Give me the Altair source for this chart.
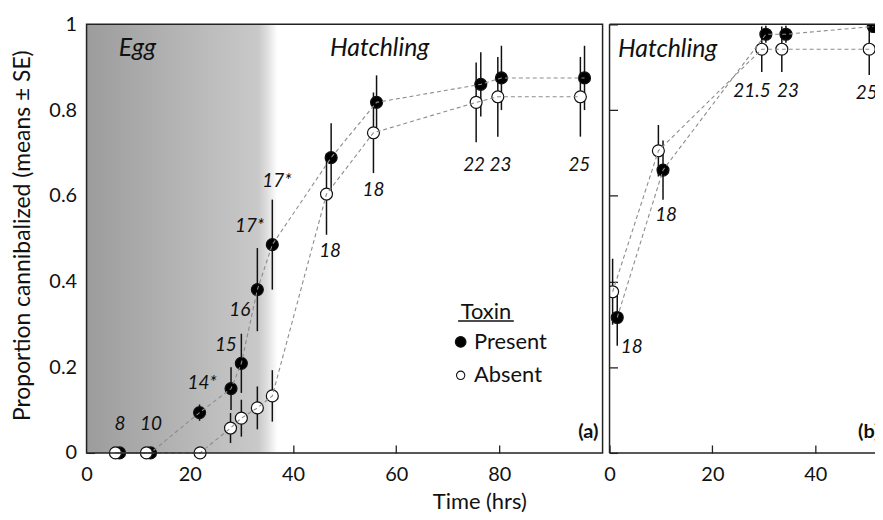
import altair as alt
import pandas as pd

# ---------------- Panel (a): egg -> hatchling ----------------
a_present_time = [6.4, 12.4, 21.9, 28.0, 30.0, 33.1, 36.0, 47.4, 56.2, 76.4, 80.4, 96.5]
a_present_mean = [0, 0, 0.094, 0.15, 0.209, 0.381, 0.486, 0.689, 0.818, 0.86, 0.875, 0.875]
a_present_se = [0, 0, 0.019, 0.05, 0.069, 0.097, 0.105, 0.08, 0.063, 0.075, 0.075, 0.075]
a_absent_time = [5.6, 11.6, 22.0, 27.9, 30.0, 33.1, 36.0, 46.5, 55.6, 75.5, 79.7, 95.7]
a_absent_mean = [0, 0, 0, 0.058, 0.081, 0.105, 0.133, 0.604, 0.747, 0.818, 0.831, 0.831]
a_absent_se = [0, 0, 0, 0.035, 0.043, 0.05, 0.06, 0.095, 0.094, 0.093, 0.093, 0.093]
a_n_text = ["8", "10", "14*", "15", "16", "17*", "17*", "18", "18", "22", "23", "25"]
a_n_time = [6.5, 12.5, 22.4, 27.0, 29.7, 31.6, 36.9, 47.2, 55.6, 75.1, 80.2, 95.5]
a_n_y = [0.067, 0.067, 0.163, 0.251, 0.333, 0.529, 0.635, 0.47, 0.614, 0.672, 0.672, 0.672]
egg_stage_end = 37

# ---------------- Panel (b): hatchling ----------------
b_present_time = [1.5, 10.4, 30.4, 34.3, 51.3]
b_present_mean = [0.316, 0.66, 0.977, 0.977, 0.995]
b_present_se = [0.066, 0.069, 0.02, 0.02, 0.015]
b_absent_time = [0.6, 9.5, 29.6, 33.5, 50.5]
b_absent_mean = [0.376, 0.705, 0.942, 0.942, 0.942]
b_absent_se = [0.077, 0.06, 0.053, 0.053, 0.06]
b_n_text = ["18", "18", "21.5", "23", "25"]
b_n_time = [4.3, 11.0, 27.7, 34.7, 50.0]
b_n_y = [0.248, 0.556, 0.845, 0.845, 0.84]

groups = ["Present", "Absent"]
y_ticks = [0, 0.2, 0.4, 0.6, 0.8, 1.0]

FONT = "Lato"
W_A, W_B, H = 519, 270, 431
XMAX_A, XMAX_B = 100, 52.2


def series_df(pt, pm, ps, at, am, a_s):
    rows = []
    for g, ts, ms, ss in [("Present", pt, pm, ps), ("Absent", at, am, a_s)]:
        for t, m, s in zip(ts, ms, ss):
            rows.append({"time": t, "mean": m, "lo": m - s, "hi": m + s, "toxin": g,
                         "order": 0 if g == "Present" else 1})
    return pd.DataFrame(rows)


def panel(df, labels_df, xmax, clip):
    xs = alt.Scale(domain=[0, xmax], nice=False, zero=False)
    ys = alt.Scale(domain=[0, 1], nice=False)
    base = alt.Chart(df)
    err = base.transform_filter("datum.hi > datum.lo").mark_rule(
        color="#111", strokeWidth=1.5, clip=clip).encode(
        x=alt.X("time:Q", scale=xs), y=alt.Y("lo:Q", scale=ys), y2="hi:Q")
    pts = base.mark_point(shape="circle", size=145, filled=True, stroke="#111",
                          strokeWidth=1.2, opacity=1, clip=clip).encode(
        x=alt.X("time:Q", scale=xs),
        y=alt.Y("mean:Q", scale=ys),
        fill=alt.Fill("toxin:N", scale=alt.Scale(domain=groups, range=["#000000", "#ffffff"]),
                      legend=None),
        order=alt.Order("order:Q"))
    lines = base.mark_line(color="#8c8c8c", strokeWidth=1.1, strokeDash=[4, 3], clip=clip).encode(
        x=alt.X("time:Q", scale=xs), y=alt.Y("mean:Q", scale=ys),
        detail="toxin:N", order="time:Q")
    nlab = alt.Chart(labels_df).mark_text(font=FONT, fontSize=19, fontStyle="italic",
                                          color="#111", clip=clip).encode(
        x=alt.X("time:Q", scale=xs), y=alt.Y("y:Q", scale=ys), text="text:N")
    return xs, ys, [err, pts, lines, nlab]


one = pd.DataFrame({"k": [0]})

# ---------- left panel ----------
df_a = series_df(a_present_time, a_present_mean, a_present_se,
                 a_absent_time, a_absent_mean, a_absent_se)
lab_a = pd.DataFrame({"time": a_n_time, "y": a_n_y, "text": a_n_text})
xs_a, ys_a, layers_a = panel(df_a, lab_a, XMAX_A, False)

bg = alt.Chart(pd.DataFrame({"x0": [0], "x1": [egg_stage_end], "y0": [0], "y1": [1]})).mark_rect(
    color=alt.LinearGradient(
        gradient="linear", x1=0, x2=1, y1=0, y2=0,
        stops=[alt.GradientStop(color="#9c9c9c", offset=0),
               alt.GradientStop(color="#c9c9c9", offset=0.9),
               alt.GradientStop(color="#dedede", offset=0.945),
               alt.GradientStop(color="#ffffff", offset=1)])).encode(
    x=alt.X("x0:Q", scale=xs_a,
            axis=alt.Axis(values=[0, 20, 40, 60, 80], title="Time (hrs)", labelPadding=12,
                          titleX=395, titleY=57, titleBaseline="middle", titleFontSize=22)),
    x2="x1:Q",
    y=alt.Y("y0:Q", scale=ys_a,
            axis=alt.Axis(values=y_ticks, format=".1~f",
                          title="Proportion cannibalized (means ± SE)",
                          titleX=-72, titleY=212, titleBaseline="middle")),
    y2="y1:Q")

stage_a = alt.Chart(pd.DataFrame({"time": [9.85, 56.8], "y": [0.944, 0.944],
                                  "text": ["Egg", "Hatchling"]})).mark_text(
    font=FONT, fontSize=25, fontStyle="italic", color="#111").encode(
    x=alt.X("time:Q", scale=xs_a), y=alt.Y("y:Q", scale=ys_a), text="text:N")

legend_title = alt.Chart(pd.DataFrame({"time": [77.4], "y": [0.329], "text": ["Toxin"]})).mark_text(
    font=FONT, fontSize=22, color="#111").encode(
    x=alt.X("time:Q", scale=xs_a), y=alt.Y("y:Q", scale=ys_a), text="text:N")
legend_ul = alt.Chart(pd.DataFrame({"a": [72.0], "b": [82.8], "y": [0.3077]})).mark_rule(
    color="#111", strokeWidth=1.4).encode(
    x=alt.X("a:Q", scale=xs_a), x2="b:Q", y=alt.Y("y:Q", scale=ys_a))
leg_df = pd.DataFrame({"time": [72.5, 72.5], "tt": [75.1, 75.1], "y": [0.259, 0.181],
                       "toxin": groups, "sz": [115, 70]})
legend_pts = alt.Chart(leg_df).mark_point(shape="circle", filled=True, stroke="#111",
                                          strokeWidth=1.1, opacity=1).encode(
    x=alt.X("time:Q", scale=xs_a), y=alt.Y("y:Q", scale=ys_a),
    fill=alt.Fill("toxin:N", scale=alt.Scale(domain=groups, range=["#000000", "#ffffff"]),
                  legend=None),
    size=alt.Size("sz:Q", scale=None))
legend_txt = alt.Chart(leg_df).mark_text(font=FONT, fontSize=22, align="left",
                                         color="#111").encode(
    x=alt.X("tt:Q", scale=xs_a), y=alt.Y("y:Q", scale=ys_a), text="toxin:N")
tag_a = alt.Chart(pd.DataFrame({"time": [99.2], "y": [0.049], "text": ["(a)"]})).mark_text(
    font=FONT, fontSize=20, fontWeight="bold", align="right", color="#111").encode(
    x=alt.X("time:Q", scale=xs_a), y=alt.Y("y:Q", scale=ys_a), text="text:N")
frame_a = alt.Chart(one).mark_rect(fillOpacity=0, stroke="#222", strokeWidth=1.5).encode(
    x=alt.value(0), x2=alt.value(W_A), y=alt.value(0), y2=alt.value(H))

left = alt.layer(bg, *layers_a, stage_a, legend_title, legend_ul, legend_pts, legend_txt,
                 tag_a, frame_a).properties(width=W_A, height=H)

# ---------- right panel ----------
df_b = series_df(b_present_time, b_present_mean, b_present_se,
                 b_absent_time, b_absent_mean, b_absent_se)
lab_b = pd.DataFrame({"time": b_n_time, "y": b_n_y, "text": b_n_text})
xs_b, ys_b, layers_b = panel(df_b, lab_b, XMAX_B, True)
layers_b[0] = layers_b[0].encode(
    x=alt.X("time:Q", scale=xs_b, axis=alt.Axis(values=[0, 20, 40], title=None, labelPadding=12)),
    y=alt.Y("lo:Q", scale=ys_b, axis=alt.Axis(values=y_ticks, labels=False, title=None)))

stage_b = alt.Chart(pd.DataFrame({"time": [11.3], "y": [0.9435], "text": ["Hatchling"]})).mark_text(
    font=FONT, fontSize=25, fontStyle="italic", color="#111").encode(
    x=alt.X("time:Q", scale=xs_b), y=alt.Y("y:Q", scale=ys_b), text="text:N")
tag_b = alt.Chart(pd.DataFrame({"time": [48.3], "y": [0.049], "text": ["(b)"]})).mark_text(
    font=FONT, fontSize=20, fontWeight="bold", align="left", color="#111", clip=True).encode(
    x=alt.X("time:Q", scale=xs_b), y=alt.Y("y:Q", scale=ys_b), text="text:N")
top_b = alt.Chart(one).mark_rule(color="#222", strokeWidth=1.5).encode(
    x=alt.value(0), x2=alt.value(W_B), y=alt.value(0))
bot_b = alt.Chart(one).mark_rule(color="#222", strokeWidth=1.5).encode(
    x=alt.value(0), x2=alt.value(W_B), y=alt.value(H))
left_b = alt.Chart(one).mark_rule(color="#222", strokeWidth=1.5).encode(
    x=alt.value(0), y=alt.value(0), y2=alt.value(H))

right = alt.layer(*layers_b, stage_b, tag_b, top_b, bot_b, left_b).properties(
    width=W_B, height=H)

chart = alt.hconcat(left, right, spacing=7, bounds="flush").properties(
    padding={"left": 3, "top": 5, "right": -4, "bottom": 0}
).configure_view(strokeWidth=0).configure_axis(
    labelFont=FONT, labelFontSize=20, labelColor="#111", labelPadding=10, labelFlush=False,
    tickColor="#222", tickWidth=1.3, tickSize=8, domain=False, grid=False, offset=-8,
    zindex=1, titleFont=FONT, titleFontSize=23, titleColor="#111", titleFontWeight="normal")

chart.save("out.html", embed_options={"renderer": "svg", "actions": False})
